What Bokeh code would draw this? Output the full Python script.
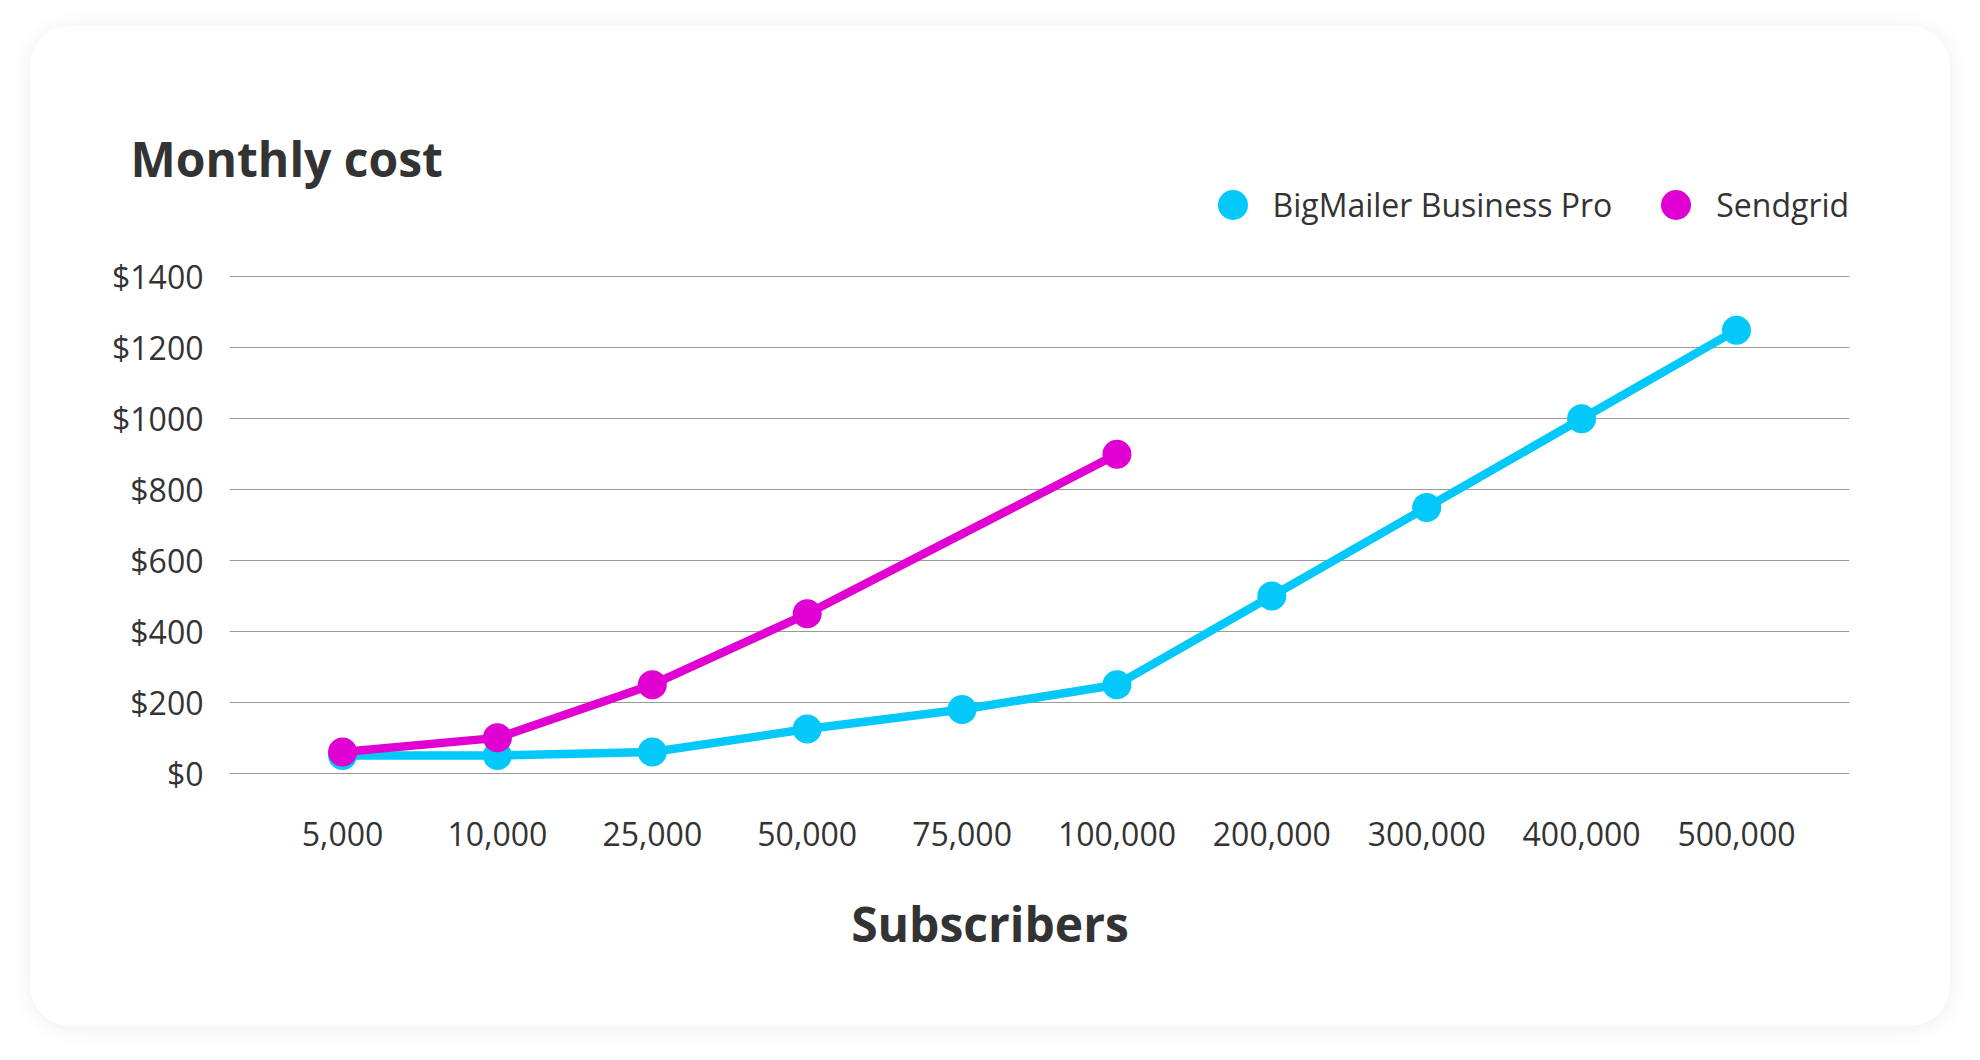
from bokeh.plotting import figure
from bokeh.layouts import column
from bokeh.models import (Range1d, FixedTicker, Label, Legend, LegendItem, ColumnDataSource)
from bokeh.embed import file_html
from bokeh.resources import INLINE

# ---- data ----
subscribers = ["5,000", "10,000", "25,000", "50,000", "75,000", "100,000",
               "200,000", "300,000", "400,000", "500,000"]
bigmailer = [50, 50, 60, 125, 180, 250, 500, 750, 1000, 1250]
sendgrid_subscribers = ["5,000", "10,000", "25,000", "50,000", "100,000"]
sendgrid = [60, 100, 250, 450, 900]
y_ticks = [0, 200, 400, 600, 800, 1000, 1200, 1400]
y_tick_labels = ["$0", "$200", "$400", "$600", "$800", "$1000", "$1200", "$1400"]
series_names = ["BigMailer Business Pro", "Sendgrid"]
title_text = "Monthly cost"
x_title_text = "Subscribers"

CYAN = "#03C8FA"
MAGENTA = "#E000D2"
TEXT = "#333333"
FONT = "Open Sans"

W = 1920
HEAD_H, FOOT_H = 216, 140
MT, FRAME_H, MB = 24, 520, 100
MAIN_H = MT + FRAME_H + MB
ML, MR = 199, 101
LABEL_FIX = 19  # baseline correction for Label text


def bare(fig):
    fig.border_fill_color = None
    fig.background_fill_color = None
    fig.outline_line_color = None
    fig.frame_align = False
    return fig


# ---------------- header: title + legend ----------------
head = bare(figure(width=W, height=HEAD_H, output_backend="svg", toolbar_location=None,
                   x_range=Range1d(0, W), y_range=Range1d(0, HEAD_H),
                   min_border=0, min_border_left=0, min_border_right=0,
                   min_border_top=0, min_border_bottom=0,
                   x_axis_type=None, y_axis_type=None))
head.xgrid.grid_line_color = None
head.ygrid.grid_line_color = None
nan = float("nan")
lb = head.scatter(x=[nan], y=[nan], marker="circle", fill_color=CYAN, line_color=None)
ls = head.scatter(x=[nan], y=[nan], marker="circle", fill_color=MAGENTA, line_color=None)
legend = Legend(items=[LegendItem(label=series_names[0], renderers=[lb]),
                       LegendItem(label=series_names[1], renderers=[ls])],
                orientation="horizontal", location=(1164.5, 0.5),
                glyph_width=75, glyph_height=75, label_standoff=3, spacing=26,
                padding=0, margin=0, border_line_color=None,
                background_fill_alpha=0,
                label_text_font=FONT, label_text_font_size="32px",
                label_text_color=TEXT)
head.add_layout(legend, "center")
head.add_layout(Label(x=100, y=HEAD_H - 151 + LABEL_FIX, x_units="screen", y_units="screen",
                      text=title_text, text_font=FONT, text_font_size="48px",
                      text_font_style="bold", text_color=TEXT,
                      text_align="left", text_baseline="alphabetic"))

# ---------------- main chart ----------------
x_idx = list(range(len(subscribers)))
p = bare(figure(width=W, height=MAIN_H, output_backend="svg", toolbar_location=None,
                x_range=Range1d(-0.73, len(subscribers) - 1 + 0.73),
                y_range=Range1d(-37.2, 1429.6),
                min_border_left=ML, min_border_right=MR,
                min_border_top=MT, min_border_bottom=MB))

p.xgrid.grid_line_color = None
p.ygrid.grid_line_color = "#9a9a9a"
p.ygrid.grid_line_width = 1.2
p.ygrid.ticker = FixedTicker(ticks=y_ticks)

p.yaxis.ticker = FixedTicker(ticks=y_ticks)
p.yaxis.major_label_overrides = {t: l for t, l in zip(y_ticks, y_tick_labels)}
p.xaxis.ticker = FixedTicker(ticks=x_idx)
p.xaxis.major_label_overrides = {i: s for i, s in zip(x_idx, subscribers)}
for ax in (p.xaxis, p.yaxis):
    ax.axis_line_color = None
    ax.major_tick_line_color = None
    ax.minor_tick_line_color = None
    ax.major_tick_out = 0
    ax.major_label_text_font = FONT
    ax.major_label_text_font_size = "32px"
    ax.major_label_text_color = TEXT
p.yaxis.major_label_standoff = 26
p.xaxis.major_label_standoff = 35

src_b = ColumnDataSource(dict(x=x_idx, y=bigmailer))
src_s = ColumnDataSource(dict(x=[subscribers.index(s) for s in sendgrid_subscribers],
                              y=sendgrid))
p.line("x", "y", source=src_b, line_color=CYAN, line_width=8.5)
p.scatter("x", "y", source=src_b, size=29, marker="circle",
          fill_color=CYAN, line_color=None)
p.line("x", "y", source=src_s, line_color=MAGENTA, line_width=8.5)
p.scatter("x", "y", source=src_s, size=29, marker="circle",
          fill_color=MAGENTA, line_color=None)

# ---------------- footer: x title ----------------
foot = bare(figure(width=W, height=FOOT_H, output_backend="svg", toolbar_location=None,
                   x_range=Range1d(0, W), y_range=Range1d(0, FOOT_H),
                   min_border=0, min_border_left=0, min_border_right=0,
                   min_border_top=0, min_border_bottom=0,
                   x_axis_type=None, y_axis_type=None))
foot.xgrid.grid_line_color = None
foot.ygrid.grid_line_color = None
foot.add_layout(Label(x=W / 2 - 0.5, y=FOOT_H - 56 + LABEL_FIX, x_units="screen", y_units="screen",
                      text=x_title_text, text_font=FONT, text_font_size="48px",
                      text_font_style="bold", text_color=TEXT,
                      text_align="center", text_baseline="alphabetic"))

card = column(head, p, foot, spacing=0)
card.margin = (26, 0, 0, 30)
card.styles = {"background-color": "white", "border-radius": "40px",
               "box-shadow": "0 2px 22px rgba(0,0,0,0.07)"}

open("out.html", "w").write(file_html(card, INLINE))
